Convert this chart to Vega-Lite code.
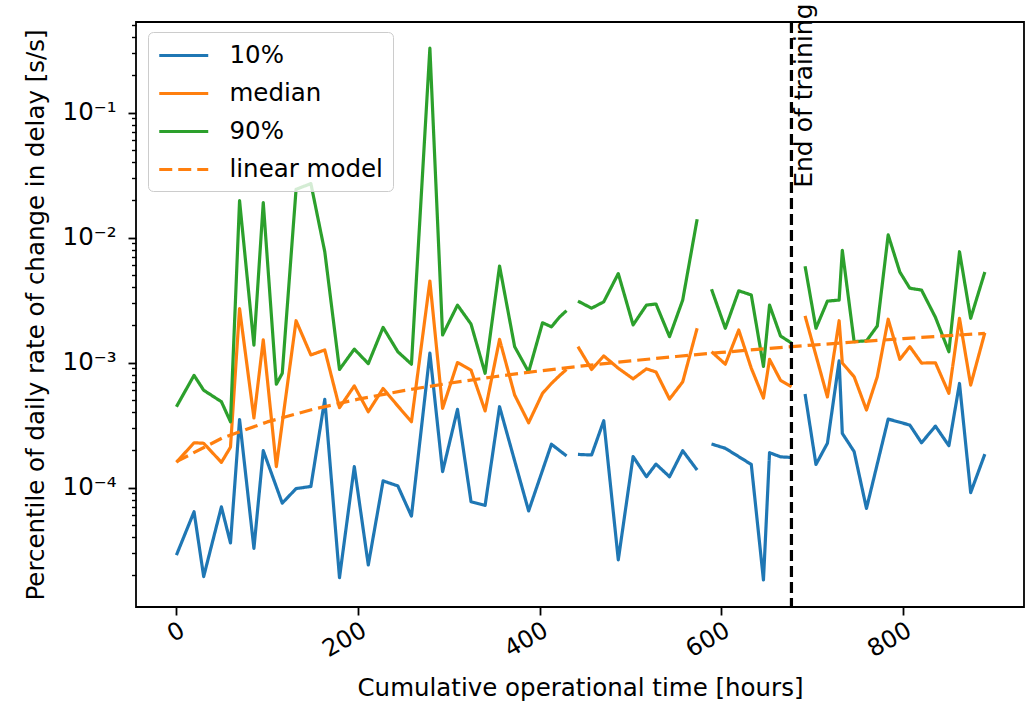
{
  "$schema": "https://vega.github.io/schema/vega-lite/v6.json",
  "width": 888,
  "height": 585,
  "autosize": {"type": "none"},
  "padding": {"left": 136, "top": 22, "right": 9, "bottom": 96},
  "background": "white",
  "config": {
    "font": "DejaVu Sans",
    "view": {"stroke": "black", "strokeWidth": 1.8},
    "axis": {"labelColor": "black", "titleColor": "black", "tickColor": "black", "titleFontWeight": "normal", "grid": false, "domain": false}
  },
  "datasets": {
    "series": [
      {"h":0,"s":"10%","v":2.88e-5},{"h":19.4,"s":"10%","v":6.4e-5},{"h":30,"s":"10%","v":1.94e-5},{"h":49.5,"s":"10%","v":7.0e-5},{"h":59.5,"s":"10%","v":3.6e-5},{"h":69.5,"s":"10%","v":3.5e-4},{"h":85.3,"s":"10%","v":3.26e-5},{"h":95.6,"s":"10%","v":1.97e-4},{"h":116.5,"s":"10%","v":7.5e-5},{"h":131.7,"s":"10%","v":9.8e-5},{"h":148,"s":"10%","v":1.02e-4},{"h":163.3,"s":"10%","v":5.07e-4},{"h":179.5,"s":"10%","v":1.9e-5},{"h":195.8,"s":"10%","v":1.47e-4},{"h":211.2,"s":"10%","v":2.4e-5},{"h":227.5,"s":"10%","v":1.13e-4},{"h":243.7,"s":"10%","v":1.03e-4},{"h":258.7,"s":"10%","v":5.9e-5},{"h":279,"s":"10%","v":1.19e-3},{"h":293,"s":"10%","v":1.34e-4},{"h":309.4,"s":"10%","v":4.22e-4},{"h":324.3,"s":"10%","v":7.7e-5},{"h":339.8,"s":"10%","v":7.2e-5},{"h":355.7,"s":"10%","v":4.43e-4},{"h":387.7,"s":"10%","v":6.5e-5},{"h":412.8,"s":"10%","v":2.22e-4},{"h":429.4,"s":"10%","v":1.79e-4},{"h":435,"s":"10%","v":null},{"h":442,"s":"10%","v":1.84e-4},{"h":457,"s":"10%","v":1.82e-4},{"h":470.4,"s":"10%","v":3.42e-4},{"h":486.4,"s":"10%","v":2.64e-5},{"h":502.7,"s":"10%","v":1.77e-4},{"h":517.4,"s":"10%","v":1.22e-4},{"h":527.9,"s":"10%","v":1.54e-4},{"h":542.8,"s":"10%","v":1.22e-4},{"h":557.3,"s":"10%","v":1.97e-4},{"h":573.2,"s":"10%","v":1.38e-4},{"h":581,"s":"10%","v":null},{"h":589,"s":"10%","v":2.23e-4},{"h":604.2,"s":"10%","v":2.06e-4},{"h":632.8,"s":"10%","v":1.53e-4},{"h":646.2,"s":"10%","v":1.82e-5},{"h":652.9,"s":"10%","v":1.9e-4},{"h":665,"s":"10%","v":1.76e-4},{"h":677.1,"s":"10%","v":1.74e-4},{"h":684,"s":"10%","v":null},{"h":692,"s":"10%","v":5.6e-4},{"h":704,"s":"10%","v":1.53e-4},{"h":716.6,"s":"10%","v":2.26e-4},{"h":729.5,"s":"10%","v":1.03e-3},{"h":733,"s":"10%","v":2.71e-4},{"h":746,"s":"10%","v":1.94e-4},{"h":759.6,"s":"10%","v":6.8e-5},{"h":783.5,"s":"10%","v":3.53e-4},{"h":807.3,"s":"10%","v":3.16e-4},{"h":820.2,"s":"10%","v":2.28e-4},{"h":835.5,"s":"10%","v":3.1e-4},{"h":850.3,"s":"10%","v":2.16e-4},{"h":862,"s":"10%","v":6.8e-4},{"h":874.3,"s":"10%","v":9.1e-5},{"h":889.9,"s":"10%","v":1.85e-4},

      {"h":0,"s":"median","v":1.59e-4},{"h":19.4,"s":"median","v":2.28e-4},{"h":30,"s":"median","v":2.26e-4},{"h":49.5,"s":"median","v":1.59e-4},{"h":59.5,"s":"median","v":2.1e-4},{"h":69.5,"s":"median","v":2.7e-3},{"h":85.3,"s":"median","v":3.6e-4},{"h":95.6,"s":"median","v":1.52e-3},{"h":110,"s":"median","v":1.47e-4},{"h":131.7,"s":"median","v":2.16e-3},{"h":148,"s":"median","v":1.15e-3},{"h":163.3,"s":"median","v":1.26e-3},{"h":179.5,"s":"median","v":4.35e-4},{"h":195.8,"s":"median","v":6.5e-4},{"h":211.2,"s":"median","v":4.04e-4},{"h":227.5,"s":"median","v":6.2e-4},{"h":243.7,"s":"median","v":4.49e-4},{"h":258.7,"s":"median","v":3.36e-4},{"h":279,"s":"median","v":4.49e-3},{"h":293,"s":"median","v":4.3e-4},{"h":309.4,"s":"median","v":1.0e-3},{"h":324.3,"s":"median","v":8.7e-4},{"h":339.8,"s":"median","v":4.1e-4},{"h":355.7,"s":"median","v":1.53e-3},{"h":372.3,"s":"median","v":5.5e-4},{"h":387.7,"s":"median","v":3.3e-4},{"h":403,"s":"median","v":5.67e-4},{"h":412.8,"s":"median","v":6.8e-4},{"h":422,"s":"median","v":7.9e-4},{"h":429.4,"s":"median","v":8.8e-4},{"h":435,"s":"median","v":null},{"h":442,"s":"median","v":1.34e-3},{"h":457,"s":"median","v":8.8e-4},{"h":470.4,"s":"median","v":1.13e-3},{"h":486.4,"s":"median","v":9.0e-4},{"h":502.7,"s":"median","v":7.4e-4},{"h":517.4,"s":"median","v":8.9e-4},{"h":527.9,"s":"median","v":8.4e-4},{"h":542.8,"s":"median","v":5.1e-4},{"h":557.3,"s":"median","v":7.0e-4},{"h":573.2,"s":"median","v":1.88e-3},{"h":581,"s":"median","v":null},{"h":589,"s":"median","v":1.22e-3},{"h":604.2,"s":"median","v":9.7e-4},{"h":619,"s":"median","v":1.82e-3},{"h":632.8,"s":"median","v":9.0e-4},{"h":646.2,"s":"median","v":5.2e-4},{"h":652.9,"s":"median","v":1.06e-3},{"h":665,"s":"median","v":7.2e-4},{"h":677.1,"s":"median","v":6.4e-4},{"h":684,"s":"median","v":null},{"h":692,"s":"median","v":2.36e-3},{"h":716.6,"s":"median","v":5.3e-4},{"h":729.5,"s":"median","v":2.16e-3},{"h":733,"s":"median","v":9.9e-4},{"h":746,"s":"median","v":7.7e-4},{"h":759.6,"s":"median","v":4.17e-4},{"h":771.5,"s":"median","v":7.7e-4},{"h":783.5,"s":"median","v":2.22e-3},{"h":796.3,"s":"median","v":1.06e-3},{"h":807.3,"s":"median","v":1.34e-3},{"h":820.2,"s":"median","v":9.9e-4},{"h":835.5,"s":"median","v":9.96e-4},{"h":850.3,"s":"median","v":5.67e-4},{"h":862,"s":"median","v":2.26e-3},{"h":874.3,"s":"median","v":6.6e-4},{"h":889.9,"s":"median","v":1.73e-3},

      {"h":0,"s":"90%","v":4.43e-4},{"h":19.4,"s":"90%","v":7.9e-4},{"h":30,"s":"90%","v":6.0e-4},{"h":49.5,"s":"90%","v":4.86e-4},{"h":59.5,"s":"90%","v":3.36e-4},{"h":69.5,"s":"90%","v":1.97e-2},{"h":85.3,"s":"90%","v":1.38e-3},{"h":95.6,"s":"90%","v":1.9e-2},{"h":110,"s":"90%","v":6.7e-4},{"h":116.5,"s":"90%","v":8.2e-4},{"h":131.7,"s":"90%","v":2.43e-2},{"h":148,"s":"90%","v":2.7e-2},{"h":163.3,"s":"90%","v":7.7e-3},{"h":179.5,"s":"90%","v":8.8e-4},{"h":195.8,"s":"90%","v":1.28e-3},{"h":211.2,"s":"90%","v":9.8e-4},{"h":227.5,"s":"90%","v":1.91e-3},{"h":243.7,"s":"90%","v":1.22e-3},{"h":258.7,"s":"90%","v":9.7e-4},{"h":279,"s":"90%","v":0.327},{"h":293,"s":"90%","v":1.66e-3},{"h":309.4,"s":"90%","v":2.88e-3},{"h":324.3,"s":"90%","v":2.03e-3},{"h":339.8,"s":"90%","v":8.2e-4},{"h":355.7,"s":"90%","v":5.92e-3},{"h":372.3,"s":"90%","v":1.34e-3},{"h":387.7,"s":"90%","v":8.4e-4},{"h":403,"s":"90%","v":2.08e-3},{"h":412.8,"s":"90%","v":1.93e-3},{"h":422,"s":"90%","v":2.32e-3},{"h":429.4,"s":"90%","v":2.6e-3},{"h":435,"s":"90%","v":null},{"h":442,"s":"90%","v":3.1e-3},{"h":457,"s":"90%","v":2.72e-3},{"h":470.4,"s":"90%","v":3.06e-3},{"h":486.4,"s":"90%","v":5.15e-3},{"h":502.7,"s":"90%","v":2.0e-3},{"h":517.4,"s":"90%","v":2.88e-3},{"h":527.9,"s":"90%","v":2.94e-3},{"h":542.8,"s":"90%","v":1.61e-3},{"h":557.3,"s":"90%","v":3.16e-3},{"h":573.2,"s":"90%","v":1.4e-2},{"h":581,"s":"90%","v":null},{"h":589,"s":"90%","v":3.86e-3},{"h":604.2,"s":"90%","v":1.88e-3},{"h":619,"s":"90%","v":3.75e-3},{"h":632.8,"s":"90%","v":3.47e-3},{"h":646.2,"s":"90%","v":9.3e-4},{"h":652.9,"s":"90%","v":2.88e-3},{"h":665,"s":"90%","v":1.63e-3},{"h":677.1,"s":"90%","v":1.43e-3},{"h":684,"s":"90%","v":null},{"h":692,"s":"90%","v":5.9e-3},{"h":704,"s":"90%","v":1.88e-3},{"h":716.6,"s":"90%","v":3.1e-3},{"h":729.5,"s":"90%","v":3.16e-3},{"h":733,"s":"90%","v":7.9e-3},{"h":746,"s":"90%","v":1.47e-3},{"h":759.6,"s":"90%","v":1.49e-3},{"h":771.5,"s":"90%","v":1.96e-3},{"h":783.5,"s":"90%","v":1.05e-2},{"h":796.3,"s":"90%","v":5.3e-3},{"h":807.3,"s":"90%","v":3.93e-3},{"h":820.2,"s":"90%","v":3.8e-3},{"h":835.5,"s":"90%","v":2.3e-3},{"h":850.3,"s":"90%","v":1.22e-3},{"h":862,"s":"90%","v":7.7e-3},{"h":874.3,"s":"90%","v":2.26e-3},{"h":889.9,"s":"90%","v":5.3e-3},

      {"h":0,"s":"linear model","v":1.61e-4},{"h":50,"s":"linear model","v":2.48e-4},{"h":100,"s":"linear model","v":3.35e-4},{"h":150,"s":"linear model","v":4.22e-4},{"h":200,"s":"linear model","v":5.09e-4},{"h":250,"s":"linear model","v":5.96e-4},{"h":300,"s":"linear model","v":6.83e-4},{"h":350,"s":"linear model","v":7.7e-4},{"h":400,"s":"linear model","v":8.57e-4},{"h":450,"s":"linear model","v":9.44e-4},{"h":500,"s":"linear model","v":1.031e-3},{"h":550,"s":"linear model","v":1.118e-3},{"h":600,"s":"linear model","v":1.205e-3},{"h":650,"s":"linear model","v":1.292e-3},{"h":700,"s":"linear model","v":1.379e-3},{"h":750,"s":"linear model","v":1.466e-3},{"h":800,"s":"linear model","v":1.553e-3},{"h":850,"s":"linear model","v":1.64e-3},{"h":889.9,"s":"linear model","v":1.71e-3}
    ],
    "marker": [{"h": 677}],
    "note": [{"h": 678, "v": 0.025, "label": "End of training"}]
  },
  "layer": [
    {
      "data": {"name": "series"},
      "mark": {"type": "line", "strokeWidth": 3.2, "invalid": "break-paths-filter-domains", "clip": true, "strokeJoin": "round"},
      "encoding": {
        "x": {"field": "h", "type": "quantitative",
          "scale": {"domain": [-44.5, 933], "nice": false, "zero": false},
          "axis": {"values": [0, 200, 400, 600, 800], "labelAngle": -30, "labelAlign": "right", "labelBaseline": "top", "labelFontSize": 24, "labelPadding": 3, "tickSize": 8, "tickWidth": 1.8, "title": "Cumulative operational time [hours]", "titleFontSize": 24.5, "titlePadding": 15}},
        "y": {"field": "v", "type": "quantitative",
          "scale": {"type": "log", "domain": [1.107e-5, 0.53], "nice": false},
          "axis": {"orient": "left", "values": [0.0001, 0.001, 0.01, 0.1], "labelExpr": "datum.value > 0.05 ? '10⁻¹' : datum.value > 0.005 ? '10⁻²' : datum.value > 0.0005 ? '10⁻³' : '10⁻⁴'", "labelFontSize": 24.5, "labelPadding": 12, "tickSize": 8, "tickWidth": 1.8, "title": "Percentile of daily rate of change in delay [s/s]", "titleFontSize": 24.5, "titlePadding": 14}},
        "color": {"field": "s", "type": "nominal",
          "scale": {"domain": ["10%", "median", "90%", "linear model"], "range": ["#1f77b4", "#ff7f0e", "#2ca02c", "#ff7f0e"]},
          "legend": {"title": null, "orient": "none", "legendX": 12, "legendY": 10, "labelFontSize": 24.5, "labelColor": "black", "symbolType": "M-1,0H3", "symbolSize": 600, "symbolStrokeWidth": 3.2, "padding": 9.5, "strokeColor": "#cccccc", "fillColor": "rgba(255,255,255,0.8)", "cornerRadius": 5, "labelOffset": 44, "rowPadding": 12}},
        "strokeDash": {"field": "s", "type": "nominal",
          "scale": {"domain": ["10%", "median", "90%", "linear model"], "range": [[1, 0], [1, 0], [1, 0], [13, 6]]},
          "legend": {"title": null, "orient": "none", "legendX": 12, "legendY": 10, "labelFontSize": 24.5, "labelColor": "black", "symbolType": "M-1,0H3", "symbolSize": 600, "symbolStrokeWidth": 3.2, "padding": 9.5, "strokeColor": "#cccccc", "fillColor": "rgba(255,255,255,0.8)", "cornerRadius": 5, "labelOffset": 44, "rowPadding": 12}}
      }
    },
    {
      "data": {"name": "marker"},
      "mark": {"type": "rule", "color": "black", "strokeWidth": 3.2, "strokeDash": [11, 5]},
      "encoding": {"x": {"field": "h", "type": "quantitative"}}
    },
    {
      "data": {"name": "note"},
      "mark": {"type": "text", "angle": 270, "align": "left", "baseline": "top", "fontSize": 25, "color": "black"},
      "encoding": {
        "x": {"field": "h", "type": "quantitative"},
        "y": {"field": "v", "type": "quantitative",
          "scale": {"type": "log", "domain": [1.107e-5, 0.53], "nice": false},
          "axis": {"orient": "left", "values": [2e-5,3e-5,4e-5,5e-5,6e-5,7e-5,8e-5,9e-5,2e-4,3e-4,4e-4,5e-4,6e-4,7e-4,8e-4,9e-4,0.002,0.003,0.004,0.005,0.006,0.007,0.008,0.009,0.02,0.03,0.04,0.05,0.06,0.07,0.08,0.09,0.2,0.3,0.4,0.5], "labels": false, "tickSize": 4.5, "tickWidth": 1.4, "title": null}},
        "text": {"field": "label"}
      }
    }
  ],
  "resolve": {"axis": {"y": "independent"}}
}
